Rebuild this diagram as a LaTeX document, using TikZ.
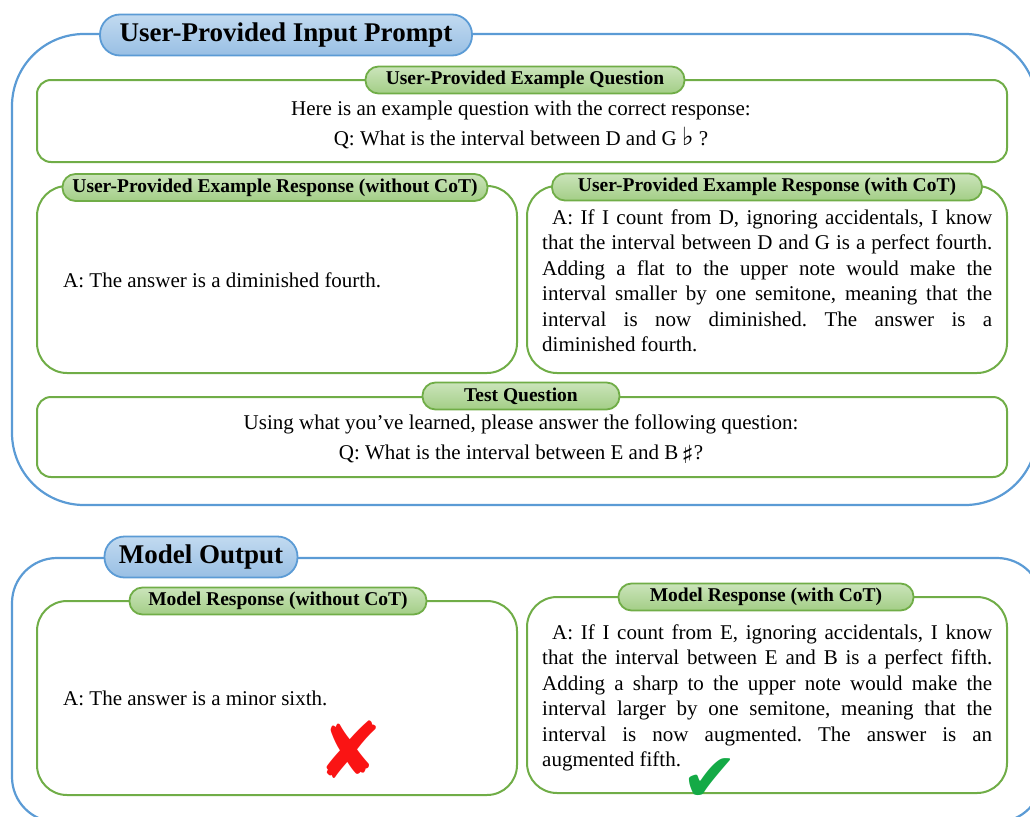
\documentclass[tikz,border=0pt]{standalone}
\usepackage{fontspec}
\setmainfont{Liberation Serif}
\newfontfamily\markfont{DejaVu Sans}
\definecolor{bordblue}{RGB}{91,155,213}
\definecolor{titletop}{RGB}{194,218,240}
\definecolor{titlebot}{RGB}{152,191,228}
\definecolor{bordgreen}{RGB}{112,173,71}
\definecolor{tagtop}{RGB}{203,228,187}
\definecolor{tagbot}{RGB}{163,206,134}
\definecolor{wrongred}{RGB}{250,20,20}
\definecolor{rightgreen}{RGB}{20,170,70}
\newcommand{\flatsign}{{\markfont\fontsize{25}{25}\selectfont ♭}}
\newcommand{\sharpsign}{\raisebox{-4pt}{\markfont\fontsize{25}{25}\selectfont ♯}}
\tikzset{
  outerbox/.style={draw=bordblue,line width=2.2pt,inner sep=0},
  innerbox/.style={draw=bordgreen,line width=2pt,inner sep=0},
  headtag/.style={draw=bordblue,line width=1.8pt,rounded corners=20pt,
    top color=titletop,bottom color=titlebot,minimum height=41pt,
    font=\fontsize{27}{30}\selectfont\bfseries},
  subtag/.style={draw=bordgreen,line width=1.8pt,rounded corners=13pt,
    top color=tagtop,bottom color=tagbot,minimum height=27pt,
    font=\fontsize{19.5}{21}\selectfont\bfseries},
  bodytext/.style={font=\fontsize{21}{25.5}\selectfont\frenchspacing,inner sep=0},
  paratext/.style={bodytext,text width=450pt,align=justify,anchor=north west}
}
\begin{document}
\begin{tikzpicture}[x=1pt,y=-1pt]
        \useasboundingbox (0,0) rectangle (1030,816);
        \clip (0,0) rectangle (1030,816);

        % outer frames
        \node[outerbox,rounded corners=72pt,minimum width=1025pt,minimum height=471pt] (promptframe) at (524.5,269.5) {};
        \node[outerbox,rounded corners=45pt,minimum width=1030pt,minimum height=264pt] (outputframe) at (527,690) {};

        % inner boxes, input prompt
        \node[innerbox,rounded corners=14pt,minimum width=970pt,minimum height=82pt] (exqbox) at (522,121) {};
        \node[innerbox,rounded corners=30pt,minimum width=480pt,minimum height=187pt] (explainbox) at (277,279.5) {};
        \node[innerbox,rounded corners=30pt,minimum width=480pt,minimum height=187pt] (excotbox) at (767,279.5) {};
        \node[innerbox,rounded corners=14pt,minimum width=970pt,minimum height=80pt] (testbox) at (522,437) {};

        % inner boxes, model output
        \node[innerbox,rounded corners=30pt,minimum width=480pt,minimum height=194pt] (outplainbox) at (277,698) {};
        \node[innerbox,rounded corners=30pt,minimum width=480pt,minimum height=196pt] (outcotbox) at (767,695) {};

        % titles and tags
        \node[headtag,minimum width=372pt] (prompttitle) at (286,35) {User-Provided Input Prompt};
        \node[headtag,minimum width=193pt] (outtitle) at (201,557) {Model Output};
        \node[subtag,minimum width=319pt] (exqtag) at (525,80) {User-Provided Example Question};
        \node[subtag,minimum width=425pt] (explaintag) at (275,187.5) {User-Provided Example Response (without CoT)};
        \node[subtag,minimum width=430pt] (excottag) at (767,187) {User-Provided Example Response (with CoT)};
        \node[subtag,minimum width=197pt] (testtag) at (521,396) {Test Question};
        \node[subtag,minimum width=297pt] (outplaintag) at (278,601) {Model Response (without CoT)};
        \node[subtag,minimum width=295pt] (outcottag) at (766,597) {Model Response (with CoT)};

        % texts
        \node[bodytext,anchor=base] (exqline1) at (521,115) {Here is an example question with the correct response:};
        \node[bodytext,anchor=base] (exqline2) at (521,145) {Q: What is the interval between D and G \flatsign\ ?};
        \node[bodytext,anchor=west] (explaintext) at (63,280) {A: The answer is a diminished fourth.};
        \node[paratext] (excottext) at (542,209.5) {\hspace*{10pt}A: If I count from D, ignoring accidentals, I know\linebreak
          that the interval between D and G is a perfect fourth.\linebreak
          Adding a flat to the upper note would make the\linebreak
          interval smaller by one semitone, meaning that the\linebreak
          interval is now diminished. The answer is a\linebreak
          diminished fourth.};
        \node[bodytext,anchor=base] (testline1) at (521,429) {Using what you’ve learned, please answer the following question:};
        \node[bodytext,anchor=base] (testline2) at (521,459) {Q: What is the interval between E and B\,\sharpsign?};
        \node[bodytext,anchor=west] (outplaintext) at (63,698) {A: The answer is a minor sixth.};
        \node[paratext] (outcottext) at (542,624.5) {\hspace*{10pt}A: If I count from E, ignoring accidentals, I know\linebreak
          that the interval between E and B is a perfect fifth.\linebreak
          Adding a sharp to the upper note would make the\linebreak
          interval larger by one semitone, meaning that the\linebreak
          interval is now augmented. The answer is an\linebreak
          augmented fifth.};

        % verdict marks
        \node[text=wrongred,font=\markfont\fontsize{78}{80}\selectfont,inner sep=0] (wrongmark) at (350,750) {✘};
        \node[text=rightgreen,font=\markfont\fontsize{68}{70}\selectfont,inner sep=0] (rightmark) at (710,780) {✔};
\end{tikzpicture}
\end{document}
